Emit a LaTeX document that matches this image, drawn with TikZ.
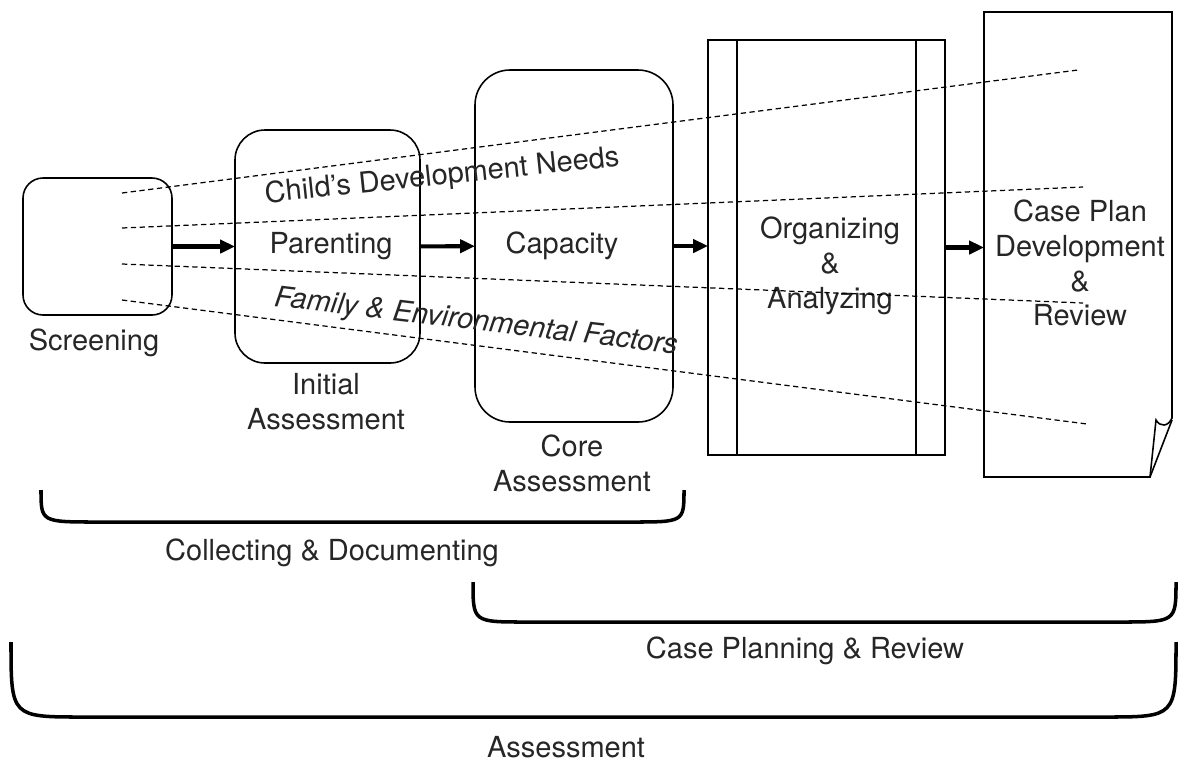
\documentclass[tikz,border=0pt]{standalone}
\usepackage{fontspec}
\setmainfont{TeX Gyre Heros}
\usetikzlibrary{arrows.meta}
\usetikzlibrary{positioning}

\tikzset{
  lbl/.style={font=\fontsize{16.5}{19.8}\selectfont, text=black!85, inner sep=0pt, align=center},
  stage/.style={draw, line width=0.9pt, rounded corners=#1, inner sep=0pt, outer sep=0pt},
  flow/.style={line width=2.3pt, -{Triangle[length=8.5pt,width=7.5pt]}},
  guide/.style={line width=0.7pt, dash pattern=on 3pt off 2pt},
  brace/.style={line width=2pt}
}

\begin{document}
\begin{tikzpicture}[x=0.2mm, y=-0.2mm]

\useasboundingbox (0,0) rectangle (1178,761);

% stages
\node[stage=0.4cm, minimum width=2.98cm, minimum height=2.74cm] (screen) at (97.5,246.5) {};
\node[stage=0.6cm, minimum width=3.7cm, minimum height=4.66cm] (initial) at (327.5,246.5) {};
\node[stage=0.7cm, minimum width=3.96cm, minimum height=7.04cm] (core) at (574,246) {};
\node[stage=0pt, minimum width=4.74cm, minimum height=8.3cm] (org) at (826.5,247.5) {};
\node[inner sep=0pt, outer sep=0pt, minimum width=3.76cm, minimum height=9.3cm] (plan) at (1078,244.5) {};

\draw[line width=0.9pt] ([xshift=0.58cm]org.north west) -- ([xshift=0.58cm]org.south west);
\draw[line width=0.9pt] ([xshift=-0.58cm]org.north east) -- ([xshift=-0.58cm]org.south east);

% document with curled corner
\draw[line width=0.9pt] (plan.south west) -- (plan.north west) -- (plan.north east)
  -- (1172,418) .. controls (1168,427) and (1160,427) .. (1156,420) -- (1150,477) -- cycle;
\draw[line width=0.9pt] (1172,420) -- (1150,477);

% stage labels
\node[lbl, anchor=base] (screenlbl) at (94,350) {Screening};
\node[lbl] (initiallbl) at (326,402) {Initial\\Assessment};
\node[lbl] (corelbl) at (572,463) {Core\\Assessment};
\node[lbl] (orglbl) at (830,266) {Organizing\\\&\\Analyzing};
\node[lbl] (planlbl) at (1080,263) {Case Plan\\Development\\\&\\Review};

% flow
\draw[flow] (screen) -- (initial);
\draw[flow] (initial) -- (core);
\draw[flow] (core.east) -- (core.east -| org.west);
\draw[flow] (org.east) -- (org.east -| plan.west);

% domains
\foreach \ya/\xb/\yb in {193/1078/70, 228/1083/187, 264/1083/303, 300/1087/424}
  \draw[guide] (122,\ya) -- (\xb,\yb);

\node[lbl, anchor=base, rotate=6] (needs) at (443,184.5) {Child's Development Needs};
\node[lbl, anchor=base] (parenting) at (331,253) {Parenting};
\node[lbl, anchor=base] (capacity) at (562,253) {Capacity};
\node[lbl, anchor=base, rotate=-6.8, font=\fontsize{16.5}{19.8}\selectfont\itshape] (family) at (475,330) {Family \& Environmental Factors};

% phases
\draw[brace] (41,490) .. controls (41,522) .. (98,522) -- (631,522) .. controls (684,522) .. (684,490);
\draw[brace] (473,582) .. controls (473,622) .. (526,622) -- (1119,622) .. controls (1176,622) .. (1176,582);
\draw[brace] (11,642) .. controls (11,717) .. (83,717) -- (1104,717) .. controls (1176,717) .. (1176,642);

\node[lbl, anchor=base] (collect) at (332,560) {Collecting \& Documenting};
\node[lbl, anchor=base] (planning) at (805,658) {Case Planning \& Review};
\node[lbl, anchor=base] (assess) at (566,757) {Assessment};

\end{tikzpicture}
\end{document}
